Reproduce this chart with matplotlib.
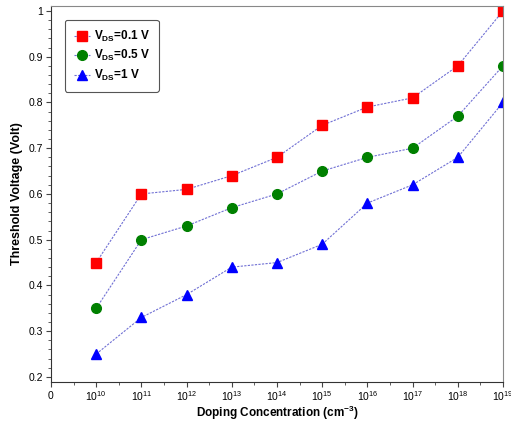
import numpy as np
import matplotlib.pyplot as plt
from matplotlib.ticker import MultipleLocator

# doping levels 1e10 ... 1e19, plotted at evenly spaced positions
exponents = [10, 11, 12, 13, 14, 15, 16, 17, 18, 19]
vt_vds01 = [0.45, 0.60, 0.61, 0.64, 0.68, 0.75, 0.79, 0.81, 0.88, 1.00]
vt_vds05 = [0.35, 0.50, 0.53, 0.57, 0.60, 0.65, 0.68, 0.70, 0.77, 0.88]
vt_vds1 = [0.25, 0.33, 0.38, 0.44, 0.45, 0.49, 0.58, 0.62, 0.68, 0.80]

tick_labels = [r'$0$'] + [r'$10^{%d}$' % e for e in exponents]

plt.rcParams['font.family'] = ['Liberation Sans Narrow', 'Liberation Sans', 'DejaVu Sans']
plt.rcParams['mathtext.fontset'] = 'custom'
plt.rcParams['mathtext.rm'] = 'Liberation Sans'
plt.rcParams['mathtext.bf'] = 'Liberation Sans:bold'

fig = plt.figure(figsize=(5.11, 4.23), dpi=100)
ax = fig.add_axes([0.0998, 0.097, 0.8845, 0.889])

x = np.arange(1, len(exponents) + 1)
line_kw = dict(color='#7070d4', lw=0.8, ls=(0, (2, 1.2)))
ax.plot(x, vt_vds01, marker='s', ms=6.5, mfc='red', mec='red', label=r'V$_{\mathbf{DS}}$=0.1 V', **line_kw)
ax.plot(x, vt_vds05, marker='o', ms=7, mfc='green', mec='green', label=r'V$_{\mathbf{DS}}$=0.5 V', **line_kw)
ax.plot(x, vt_vds1, marker='^', ms=7, mfc='blue', mec='blue', label=r'V$_{\mathbf{DS}}$=1 V', **line_kw)

ax.set_xlim(0, 10)
ax.set_ylim(0.189, 1.011)
ax.set_xticks(np.arange(0, 11))
ax.set_xticklabels(tick_labels, fontsize=7.5)
ax.xaxis.set_minor_locator(MultipleLocator(0.5))
ax.yaxis.set_major_locator(MultipleLocator(0.1))
ax.yaxis.set_minor_locator(MultipleLocator(0.02))
ax.set_yticklabels([f'{v:g}' for v in ax.get_yticks()], fontsize=7.5)
ax.tick_params(which='major', direction='out', length=3.5, width=0.8, color='#444444', pad=2)
ax.tick_params(which='minor', direction='out', length=2, width=0.6, color='#444444')
ax.tick_params(axis='x', pad=1.5)

for side in ['left', 'bottom']:
    ax.spines[side].set_color('#333333')
for side in ['top', 'right']:
    ax.spines[side].set_color('#888888')

ax.set_xlabel(r'Doping Concentration (cm$^{\mathbf{-3}}$)', fontsize=8.5, fontweight='bold',
              family=['Liberation Sans', 'DejaVu Sans'])
ax.set_ylabel('Threshold Voltage (Volt)', fontsize=9, fontweight='bold',
              family=['Liberation Sans', 'DejaVu Sans'])
ax.xaxis.set_label_coords(0.5, -0.058)
ax.yaxis.set_label_coords(-0.062, 0.5)

leg = ax.legend(loc='upper left', bbox_to_anchor=(0.031, 0.963), fancybox=True, framealpha=1,
                edgecolor='#555555', handlelength=1.4, handletextpad=0.3, labelspacing=0.38,
                borderpad=0.75, borderaxespad=0,
                prop={'family': ['Liberation Sans', 'DejaVu Sans'], 'weight': 'bold', 'size': 8.5})
leg.get_frame().set_linewidth(0.8)

fig.savefig('out.png', dpi=100)
